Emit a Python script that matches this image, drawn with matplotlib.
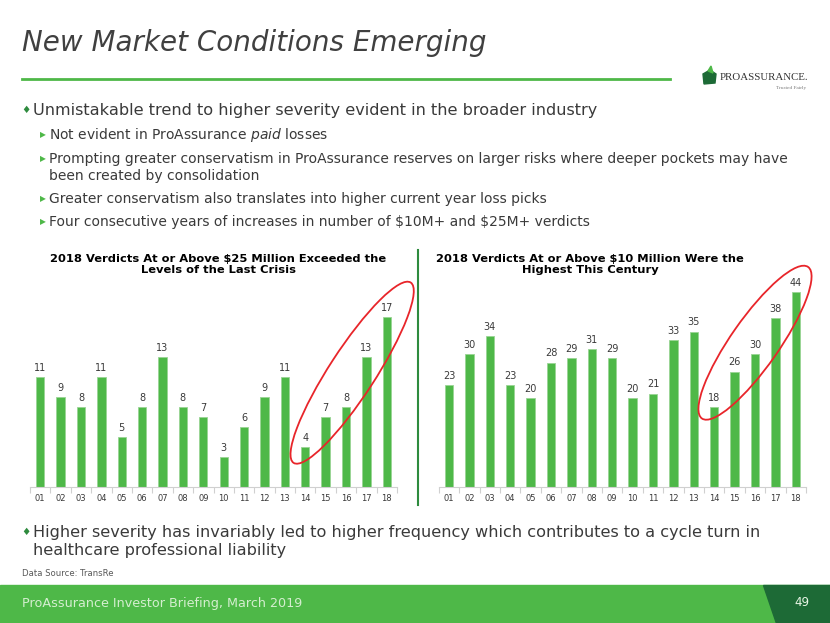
import matplotlib
matplotlib.use("Agg")
import matplotlib.pyplot as plt
from matplotlib.patches import Ellipse, Polygon, Rectangle
from matplotlib.transforms import IdentityTransform

# --- Data ---
YEARS = ['01', '02', '03', '04', '05', '06', '07', '08', '09',
         '10', '11', '12', '13', '14', '15', '16', '17', '18']
VERDICTS_25M = [11, 9, 8, 11, 5, 8, 13, 8, 7, 3, 6, 9, 11, 4, 7, 8, 13, 17]
VERDICTS_10M = [23, 30, 34, 23, 20, 28, 29, 31, 29, 20, 21, 33, 35, 18, 26, 30, 38, 44]

TITLE = 'New Market Conditions Emerging'
TITLE_25M = '2018 Verdicts At or Above $25 Million Exceeded the\nLevels of the Last Crisis'
TITLE_10M = '2018 Verdicts At or Above $10 Million Were the\nHighest This Century'
BULLET_TOP = 'Unmistakable trend to higher severity evident in the broader industry'
SUB_BULLETS = [
    'Not evident in ProAssurance $paid$ losses',
    'Prompting greater conservatism in ProAssurance reserves on larger risks where deeper pockets may have\nbeen created by consolidation',
    'Greater conservatism also translates into higher current year loss picks',
    'Four consecutive years of increases in number of \\$10M+ and \\$25M+ verdicts',
]
BULLET_BOTTOM = 'Higher severity has invariably led to higher frequency which contributes to a cycle turn in\nhealthcare professional liability'
SOURCE = 'Data Source: TransRe'
FOOTER = 'ProAssurance Investor Briefing, March 2019'
PAGE = '49'

# --- Styling ---
W, H = 830, 623
GREEN = '#4EB848'
DARK_GREEN = '#1D6A36'
TEXT = '#3A3A3A'


def fx(x):
    return x / W


def fy(y):
    return 1 - y / H


fig = plt.figure(figsize=(W / 100, H / 100), dpi=100)
fig.patch.set_facecolor('white')

# title + rule
fig.text(fx(22), fy(51), TITLE, fontsize=20, style='italic', color='#404040', va='baseline')
fig.add_artist(plt.Line2D([fx(22), fx(670)], [fy(79), fy(79)], color=GREEN, lw=2))

# logo
fig.add_artist(Polygon([(fx(703), fy(74)), (fx(710), fy(70)), (fx(716), fy(74)),
                        (fx(715), fy(83)), (fx(704), fy(84))],
                       closed=True, color=DARK_GREEN))
fig.add_artist(Polygon([(fx(708), fy(71)), (fx(711), fy(66)), (fx(713), fy(73))],
                       closed=True, color=GREEN))
fig.text(fx(720), fy(77), 'PROASSURANCE.', fontsize=7.8, family='Liberation Serif',
         color='#333333', va='center')
fig.text(fx(806), fy(88), 'Trusted Fairly', fontsize=3.8, family='Liberation Serif',
         color='#777777', va='center', ha='right')

# bullets
fig.text(fx(21), fy(110), '\u2666', fontsize=7.5, color='#2E8B3E', va='center')
fig.text(fx(33), fy(110), BULLET_TOP, fontsize=11.6, color=TEXT, va='center')
sub_y = [135, 167.5, 199, 222]
for txt, y in zip(SUB_BULLETS, sub_y):
    fig.text(fx(40), fy(y if '\n' not in txt else 159), '\u25B6', fontsize=5.5,
             color=GREEN, va='center')
    fig.text(fx(49), fy(y), txt, fontsize=10, color=TEXT, va='center', linespacing=1.2)

fig.text(fx(21), fy(532), '\u2666', fontsize=7.5, color='#2E8B3E', va='center')
fig.text(fx(33), fy(541.5), BULLET_BOTTOM, fontsize=11.6, color=TEXT, va='center',
         linespacing=1.2)
fig.text(fx(22), fy(573), SOURCE, fontsize=6.1, color='#595959', va='center')

# divider between charts
fig.add_artist(plt.Line2D([fx(418.3), fx(418.3)], [fy(250), fy(505)],
                          color='#2E8B3E', lw=1.5))


def bar_panel(left, right, top, values, ymax, title, title_x, ell):
    ax = fig.add_axes([fx(left), fy(486.7), fx(right) - fx(left), fy(top) - fy(486.7)])
    x = list(range(len(values)))
    bars = ax.bar(x, values, width=0.41, color=GREEN, edgecolor='#9AD494', linewidth=0.6)
    ax.bar_label(bars, padding=3, fontsize=7, color=TEXT)
    ax.set_xlim(-0.5, len(values) - 0.5)
    ax.set_ylim(0, ymax)
    ax.set_xticks(x)
    ax.set_xticklabels(YEARS, fontsize=6, color=TEXT)
    ax.set_xticks([i - 0.5 for i in range(len(values) + 1)], minor=True)
    ax.tick_params(axis='x', which='major', length=0, pad=5)
    ax.tick_params(axis='x', which='minor', length=4, color='#D0D0D0', width=0.8)
    ax.set_yticks([])
    for s in ['top', 'right', 'left']:
        ax.spines[s].set_visible(False)
    ax.spines['bottom'].set_color('#D0D0D0')
    ax.patch.set_alpha(0)
    fig.text(fx(title_x), fy(264.5), title, fontsize=8.25, weight='bold', color='black',
             ha='center', va='center', linespacing=1.1)
    # red highlight ellipse around 2014-2018
    cx, cy, w, h, ang = ell
    px, py = ax.transData.transform((cx, cy))
    ax.add_patch(Ellipse((px, py), w, h, angle=ang, transform=IdentityTransform(),
                         fill=False, edgecolor='#E8252A', lw=1.3, clip_on=False))
    return ax


bar_panel(30, 397, 301.7, VERDICTS_25M, 18.5, TITLE_25M, 218, (15.3, 11.4, 215, 46, 57))
bar_panel(438.8, 806, 282.9, VERDICTS_10M, 46, TITLE_10M, 590, (15.0, 32.5, 185, 48, 55))

# footer
fig.add_artist(Rectangle((0, 0), 1, fy(585), transform=fig.transFigure, color=GREEN))
fig.add_artist(Polygon([(fx(763), fy(585)), (1, fy(585)), (1, 0), (fx(776), 0)],
                       closed=True, color=DARK_GREEN))
fig.text(fx(22), fy(604), FOOTER, fontsize=9.2, color='#D4EECF', va='center')
fig.text(fx(802), fy(603), PAGE, fontsize=8.6, color='#E8F5E5', va='center', ha='center')

fig.savefig('out.png', dpi=100)
